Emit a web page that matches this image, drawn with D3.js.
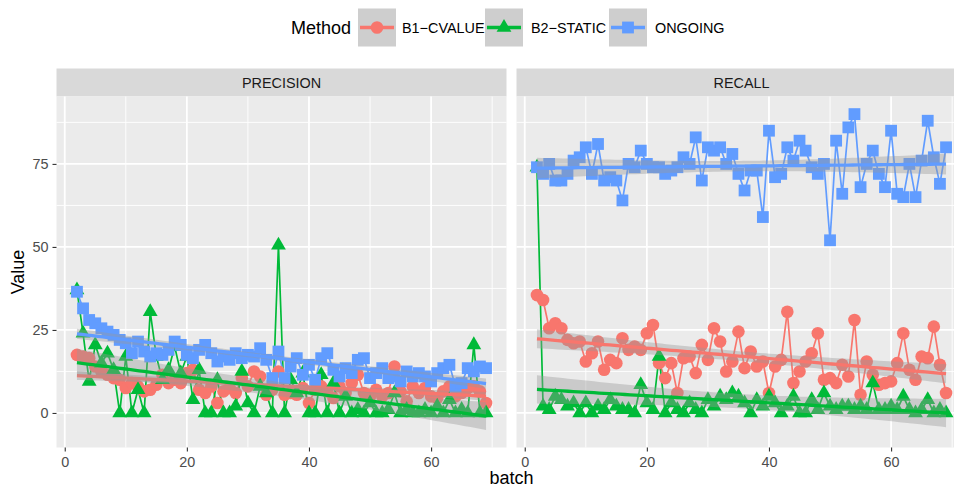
<!DOCTYPE html>
<html>
<head>
<meta charset="utf-8">
<script src="https://cdn.jsdelivr.net/npm/d3@7"></script>
<style>
  body { margin: 0; background: #fff; }
  text { font-family: "Liberation Sans", Arial, sans-serif; }
</style>
</head>
<body>
<svg id="chart" width="954" height="488"></svg>
<script>
// ---- data ----
var batches = [2,3,4,5,6,7,8,9,10,11,12,13,14,15,16,17,18,19,20,21,22,23,24,25,26,27,28,29,30,31,32,33,34,35,
  36,37,38,39,40,41,42,43,44,45,46,47,48,49,50,51,52,53,54,55,56,57,58,59,60,61,62,63,64,65,66,67,68,69];

var methods = ["B1\u2212CVALUE", "B2\u2212STATIC", "ONGOING"];
var facets = ["PRECISION", "RECALL"];
var xTicks = [0, 20, 40, 60];
var yTicks = [0, 25, 50, 75];

var precisionCvalue = [17.5,17,16.5,14,12.5,11.5,10.5,10,7.5,9,8,6.5,7,8.5,11.5,9,10,9,12,13,7,6,8,3,6.5,7.5,6,10.5,8,12.5,11,5.5,7,12.5,
  5.5,6,5.5,7.5,3,7,8,6.5,4.5,8,6,9,11.5,6,5,7,5,6,14,6.5,3.5,8,6,7.5,5,4.5,6.5,8,5,6,7.5,8,6.5,3];
var precisionStatic = [37,24,9.5,20.5,15,18,13,0,17,0,7,0,30.5,17,10,13,20,12,17,4,13,0,0,10,0,0,2,12.5,3,0,8,6,0,50.5,
  0,10,6,12,0,0,11.5,0,9,0,5,0,1,0,3,0,0,1,6,0,1,0,0,1,0,2,0,4,0,1,0,20.5,0,0];
var precisionOngoing = [36.5,31.5,28,27,25.5,24.5,23.5,22,21,18,21.5,18.5,17,18,17.5,19,21.5,20.5,17.5,16.5,19,20.5,18,15.5,17,16,18,16.5,17.5,17,19.5,16,10.5,18.5,
  10.5,14,16.5,11.5,14.5,10,16.5,18,13,11,13.5,12,16,16.5,10.5,12,13.5,10.5,11,9.5,12.5,11,12,11,9.5,12,13.5,14.5,8,9,13.5,12.5,14,13.5];

var recallCvalue = [35.5,34,25.5,27,25.5,22,21,21.5,15.5,18,21.5,13,16,15,22.5,19,20,19,24,26.5,15,10.5,15,6,16.5,17,12,20.5,16,25.5,21.5,12.5,15.5,24.5,
  13.5,18.5,14,15.5,6,14,16,30.5,9,12.5,15.5,18,24,10,10.5,9,14.5,11,28,5.5,15.5,11.5,8.5,9,9.5,15,24,13,10,17,16.5,26,14.5,6];
var recallStatic = [74,2,1,5,4,2,3,0,3,0,2,1,4,2,1,1,0,8.5,3,1,17,0,3,1,0,3,1,0,4,2,5,4,6,5,
  3,0,4,2,5,3,0,2,5,0,0,4,1,6,2,1,2,2,1,2,1,9,1,1,2,1,5,1,0,1,4,0,1,0];
var recallOngoing = [74,72,75,70,70,72,76,77,80,72,81,70,71,70,64,75,74,79,75,74,74,72,73,74,77,75,83,70,80,79,80,75,78,72,
  67,73,73,59,85,71,72,80,76,82,79,74,72,75,52,82,66,86,90,68,75,79,72,68,85,66,65,75,65,76,88,77,69,80];

var series = [
  [precisionCvalue, precisionStatic, precisionOngoing],
  [recallCvalue, recallStatic, recallOngoing]
];

var colors = ["#F8766D", "#00BA38", "#619CFF"];

// ---- layout ----
var svg = d3.select('#chart');
var panelW = 450, panelH = 351, panelTop = 96.5;
var panelLeft = [56.5, 516.5];
var tCrit = 1.997; // t(0.975, 66)

var ext = d3.extent(batches);
var pad = (ext[1] - ext[0]) * 0.05;
var x = d3.scaleLinear().domain([ext[0] - pad, ext[1] + pad]).range([0, panelW]);
var y = d3.scaleLinear().domain([-10.4, 95.3]).range([panelH, 0]);

function linFit(xs, ys) {
  var n = xs.length, mx = d3.mean(xs), my = d3.mean(ys);
  var sxx = d3.sum(xs, function(v) { return (v - mx) * (v - mx); });
  var sxy = d3.sum(xs, function(v, i) { return (v - mx) * (ys[i] - my); });
  var b = sxy / sxx, a = my - b * mx;
  var rss = d3.sum(xs, function(v, i) { var r = ys[i] - (a + b * v); return r * r; });
  var s = Math.sqrt(rss / (n - 2));
  var grid = d3.range(80).map(function(k) { return ext[0] + (ext[1] - ext[0]) * k / 79; });
  return grid.map(function(gx) {
    var f = a + b * gx;
    var se = s * Math.sqrt(1 / n + (gx - mx) * (gx - mx) / sxx);
    return {x: gx, fit: f, lo: f - tCrit * se, hi: f + tCrit * se};
  });
}

var line = d3.line()
  .x(function(d) { return x(d[0]); })
  .y(function(d) { return y(d[1]); });

var band = d3.area()
  .x(function(d) { return x(d.x); })
  .y0(function(d) { return y(d.lo); })
  .y1(function(d) { return y(d.hi); });

var fitLine = d3.line()
  .x(function(d) { return x(d.x); })
  .y(function(d) { return y(d.fit); });

function drawPoint(sel, m, color) {
  if (m === 0) {
    sel.append('circle').attr('r', 6.3).attr('fill', color);
  } else if (m === 1) {
    sel.append('path').attr('d', d3.symbol().type(d3.symbolTriangle).size(95)()).attr('fill', color);
  } else {
    sel.append('rect').attr('x', -5.9).attr('y', -5.9).attr('width', 11.8).attr('height', 11.8).attr('fill', color);
  }
}

facets.forEach(function(name, fi) {
  // strip
  svg.append('rect')
    .attr('x', panelLeft[fi]).attr('y', 68.5)
    .attr('width', panelW).attr('height', 28)
    .attr('fill', '#D9D9D9');
  svg.append('text')
    .attr('x', panelLeft[fi] + panelW / 2).attr('y', 82.5)
    .attr('dy', '0.35em')
    .attr('text-anchor', 'middle')
    .attr('font-size', '14.4px')
    .attr('fill', '#1A1A1A')
    .text(name);

  var g = svg.append('g')
    .attr('transform', 'translate(' + panelLeft[fi] + ',' + panelTop + ')');

  g.append('rect').attr('width', panelW).attr('height', panelH).attr('fill', '#EBEBEB');

  svg.append('clipPath').attr('id', 'clip' + fi)
    .append('rect').attr('width', panelW).attr('height', panelH);

  // minor grid
  var xMinor = [10, 30, 50, 70], yMinor = [12.5, 37.5, 62.5, 87.5];
  g.selectAll('.xminor').data(xMinor).enter().append('line')
    .attr('x1', function(d) { return x(d); }).attr('x2', function(d) { return x(d); })
    .attr('y1', 0).attr('y2', panelH)
    .attr('stroke', '#fff').attr('stroke-width', 0.9);
  g.selectAll('.yminor').data(yMinor).enter().append('line')
    .attr('y1', function(d) { return y(d); }).attr('y2', function(d) { return y(d); })
    .attr('x1', 0).attr('x2', panelW)
    .attr('stroke', '#fff').attr('stroke-width', 0.9);
  // major grid
  g.selectAll('.xmajor').data(xTicks).enter().append('line')
    .attr('x1', function(d) { return x(d); }).attr('x2', function(d) { return x(d); })
    .attr('y1', 0).attr('y2', panelH)
    .attr('stroke', '#fff').attr('stroke-width', 1.8);
  g.selectAll('.ymajor').data(yTicks).enter().append('line')
    .attr('y1', function(d) { return y(d); }).attr('y2', function(d) { return y(d); })
    .attr('x1', 0).attr('x2', panelW)
    .attr('stroke', '#fff').attr('stroke-width', 1.8);

  var plot = g.append('g').attr('clip-path', 'url(#clip' + fi + ')');

  // lines layer
  series[fi].forEach(function(vals, m) {
    var pts = batches.map(function(b, i) { return [b, vals[i]]; });
    plot.append('path')
      .attr('d', line(pts))
      .attr('fill', 'none')
      .attr('stroke', colors[m])
      .attr('stroke-width', 1.7);
  });

  // points layer
  series[fi].forEach(function(vals, m) {
    batches.forEach(function(b, i) {
      var p = plot.append('g').attr('transform', 'translate(' + x(b) + ',' + y(vals[i]) + ')');
      drawPoint(p, m, colors[m]);
    });
  });

  // smooth layer (lm with 95% band)
  series[fi].forEach(function(vals, m) {
    var fit = linFit(batches, vals);
    plot.append('path').attr('d', band(fit)).attr('fill', '#999999').attr('fill-opacity', 0.4);
    plot.append('path').attr('d', fitLine(fit))
      .attr('fill', 'none').attr('stroke', colors[m]).attr('stroke-width', 3.3);
  });

  // x axis
  var xa = svg.append('g')
    .attr('transform', 'translate(' + panelLeft[fi] + ',' + (panelTop + panelH) + ')')
    .call(d3.axisBottom(x).tickValues(xTicks).tickSize(4).tickPadding(5));
  xa.select('.domain').remove();
  xa.selectAll('line').attr('stroke', '#333333').attr('stroke-width', 1.1);
  xa.selectAll('text').attr('fill', '#4D4D4D').attr('font-size', '14.4px')
    .style('font-family', '"Liberation Sans", Arial, sans-serif');
});

// y axis (left panel only)
var ya = svg.append('g')
  .attr('transform', 'translate(' + panelLeft[0] + ',' + panelTop + ')')
  .call(d3.axisLeft(y).tickValues(yTicks).tickSize(4).tickPadding(4));
ya.select('.domain').remove();
ya.selectAll('line').attr('stroke', '#333333').attr('stroke-width', 1.1);
ya.selectAll('text').attr('fill', '#4D4D4D').attr('font-size', '14.4px')
  .style('font-family', '"Liberation Sans", Arial, sans-serif');

// axis titles
svg.append('text')
  .attr('x', (panelLeft[0] + panelLeft[1] + panelW) / 2).attr('y', 484)
  .attr('text-anchor', 'middle').attr('font-size', '18px').attr('fill', '#000')
  .text('batch');
svg.append('text')
  .attr('transform', 'translate(24,' + (panelTop + panelH / 2) + ') rotate(-90)')
  .attr('text-anchor', 'middle').attr('font-size', '18px').attr('fill', '#000')
  .text('Value');

// legend
var legend = svg.append('g');
legend.append('text')
  .attr('x', 291).attr('y', 27.5).attr('dy', '0.35em')
  .attr('font-size', '18px').attr('fill', '#000')
  .text('Method');
var keyX = [358, 485, 609];
var labelX = [402, 531, 655];
methods.forEach(function(name, m) {
  var k = legend.append('g').attr('transform', 'translate(' + keyX[m] + ',8.5)');
  k.append('rect').attr('width', 38).attr('height', 38).attr('fill', '#CECECE');
  k.append('line').attr('x1', 2).attr('x2', 36).attr('y1', 19).attr('y2', 19)
    .attr('stroke', colors[m]).attr('stroke-width', 3.3);
  var p = k.append('g').attr('transform', 'translate(19,19)');
  drawPoint(p, m, colors[m]);
  legend.append('text')
    .attr('x', labelX[m]).attr('y', 27.5).attr('dy', '0.35em')
    .attr('font-size', '14.4px').attr('fill', '#000')
    .text(name);
});
</script>
</body>
</html>
